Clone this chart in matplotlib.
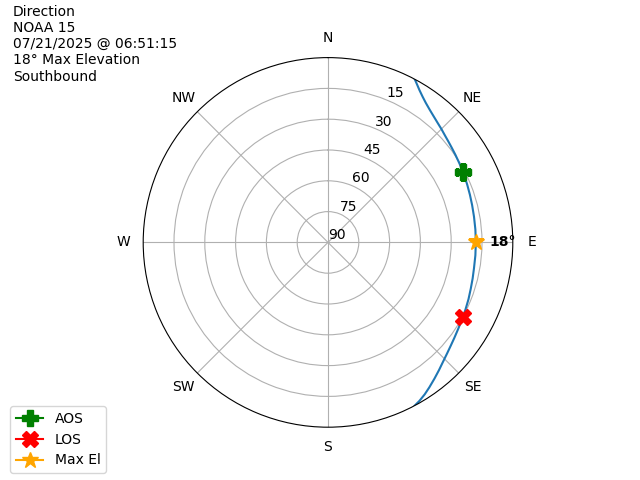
import numpy as np
import matplotlib
matplotlib.use("Agg")
import matplotlib.pyplot as plt

# pass track (azimuth deg, elevation deg)
track_az = [28, 29.5, 31, 33, 35, 37.5, 40, 42.5, 45, 47.5, 50, 52.5, 55.5, 59.5, 63.5, 67.5, 71.5,
            75.5, 80, 85, 90, 95, 100, 104, 108, 112, 116, 120, 123.5, 127, 130,
            133, 136, 139, 142, 145, 147.5, 150, 152]
track_el = [0, 1.8, 3.5, 5.4, 7.0, 8.6, 9.9, 11.0, 11.9, 12.8, 13.5, 14.1, 14.7, 15.4, 16.0, 16.6, 17.1,
            17.5, 17.8, 17.95, 18, 17.95, 17.8, 17.4, 16.9, 16.2, 15.5, 14.7, 13.9, 12.9, 11.9,
            10.7, 9.3, 7.6, 5.8, 3.9, 2.3, 0.9, 0]

aos_az, aos_el = 62.5, 15.7
los_az, los_el = 119.0, 14.6
max_az, max_el = 90, 18

dir_labels = ["N", "NE", "E", "SE", "S", "SW", "W", "NW"]
el_ticks = [0, 15, 30, 45, 60, 75]
el_labels = ["90", "75", "60", "45", "30", "15"]

header = "Direction\nNOAA 15\n07/21/2025 @ 06:51:15\n18° Max Elevation\nSouthbound"

fig = plt.figure(figsize=(6.4, 4.8), dpi=100)
ax = fig.add_subplot(111, projection="polar")
ax.set_theta_zero_location("N")
ax.set_theta_direction(-1)

r = 90 - np.array(track_el)
ax.plot(np.radians(track_az), r)
ax.plot(np.radians(aos_az), 90 - aos_el, marker="P", color="green", markersize=12, label="AOS")
ax.plot(np.radians(los_az), 90 - los_el, marker="X", color="red", markersize=12, label="LOS")
ax.plot(np.radians(max_az), 90 - max_el, marker="*", color="orange", markersize=12, label="Max El")
ax.annotate(f"{max_el}°", (np.radians(max_az), 90 - max_el), xytext=(10, 0),
            textcoords="offset points", fontweight="bold", va="center")

ax.set_ylim(0, 90)
ax.set_yticks(el_ticks)
ax.set_yticklabels(el_labels)
ax.set_xticks(np.radians(np.arange(0, 360, 45)))
ax.set_xticklabels(dir_labels)

fig.text(0.02, 0.99, header, va="top", ha="left")
fig.legend(loc="lower left", bbox_to_anchor=(0.005, 0.0))

fig.savefig("out.png")
